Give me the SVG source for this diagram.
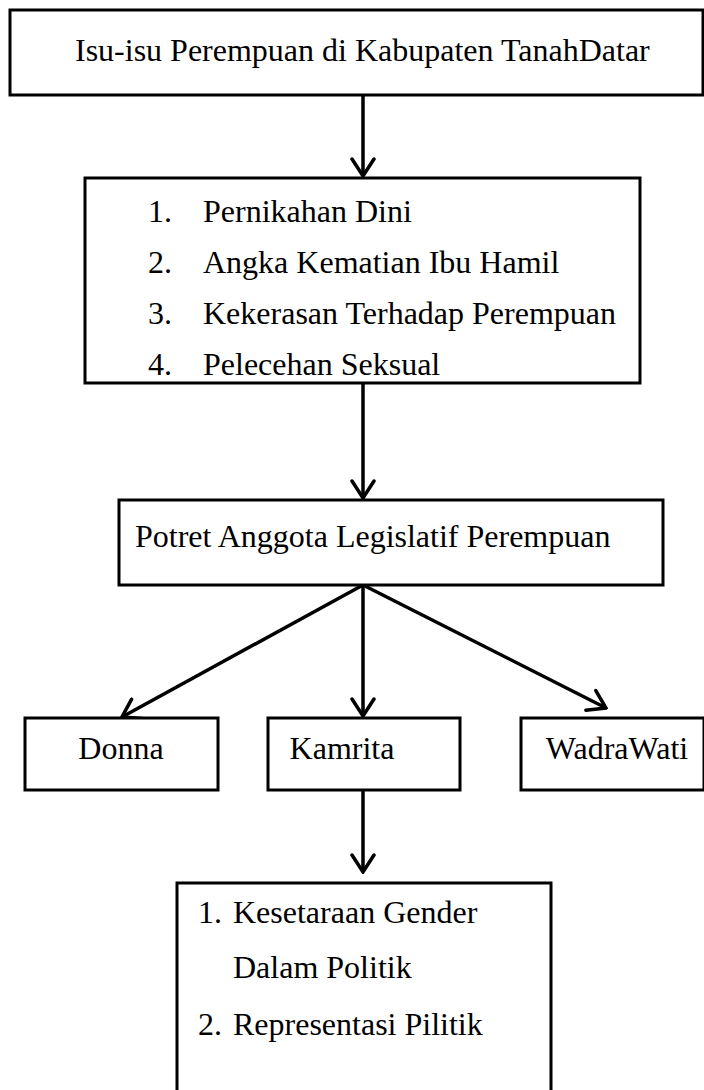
<svg xmlns="http://www.w3.org/2000/svg" width="704" height="1090" viewBox="0 0 704 1090">
<style>
.box{fill:#fff;stroke:#000;stroke-width:3}
.t{font-family:"Liberation Serif","Times New Roman",serif;font-size:32px;fill:#000}
.c{fill:none;stroke:#000;stroke-width:3.5}
</style>
<defs>
<marker id="ah" markerUnits="userSpaceOnUse" viewBox="-20 -13 22 26" markerWidth="22" markerHeight="26" refX="0" refY="0" orient="auto">
<path d="M-17,-11 L0,0 L-17,11" fill="none" stroke="#000" stroke-width="3.5" stroke-linecap="round" stroke-linejoin="miter"/>
</marker>
</defs>
<rect width="704" height="1090" fill="#fff"/>
<g id="connectors">
<line class="c" x1="363" y1="95" x2="363" y2="176" marker-end="url(#ah)"/>
<line class="c" x1="363" y1="383" x2="363" y2="498" marker-end="url(#ah)"/>
<line class="c" x1="363" y1="585" x2="122" y2="717" marker-end="url(#ah)"/>
<line class="c" x1="363" y1="585" x2="363" y2="716" marker-end="url(#ah)"/>
<line class="c" x1="363" y1="585" x2="606" y2="708" marker-end="url(#ah)"/>
<line class="c" x1="363" y1="790" x2="363" y2="872" marker-end="url(#ah)"/>
</g>
<g id="node-isu">
<rect class="box" x="10" y="10" width="693" height="85"/>
<text class="t" x="75" y="61">Isu-isu Perempuan di Kabupaten TanahDatar</text>
</g>
<g id="node-list">
<rect class="box" x="85" y="178" width="555" height="205"/>
<text class="t" x="148" y="222">1.</text><text class="t" x="203" y="222">Pernikahan Dini</text>
<text class="t" x="148" y="273">2.</text><text class="t" x="203" y="273">Angka Kematian Ibu Hamil</text>
<text class="t" x="148" y="324">3.</text><text class="t" x="203" y="324">Kekerasan Terhadap Perempuan</text>
<text class="t" x="148" y="375">4.</text><text class="t" x="203" y="375">Pelecehan Seksual</text>
</g>
<g id="node-potret">
<rect class="box" x="119" y="500" width="544" height="85"/>
<text class="t" x="135" y="547">Potret Anggota Legislatif Perempuan</text>
</g>
<g id="node-donna">
<rect class="box" x="25" y="718" width="193" height="72"/>
<text class="t" x="121" y="759" text-anchor="middle">Donna</text>
</g>
<g id="node-kamrita">
<rect class="box" x="268" y="718" width="192" height="72"/>
<text class="t" x="342" y="759" text-anchor="middle">Kamrita</text>
</g>
<g id="node-wadrawati">
<rect class="box" x="521" y="718" width="183" height="72"/>
<text class="t" x="617" y="759" text-anchor="middle">WadraWati</text>
</g>
<g id="node-hasil">
<path class="box" d="M177,1092 V883 H551 V1092"/>
<text class="t" x="198" y="923">1.</text><text class="t" x="233" y="923">Kesetaraan Gender</text>
<text class="t" x="233" y="978">Dalam Politik</text>
<text class="t" x="198" y="1035">2.</text><text class="t" x="233" y="1035">Representasi Pilitik</text>
</g>
</svg>
